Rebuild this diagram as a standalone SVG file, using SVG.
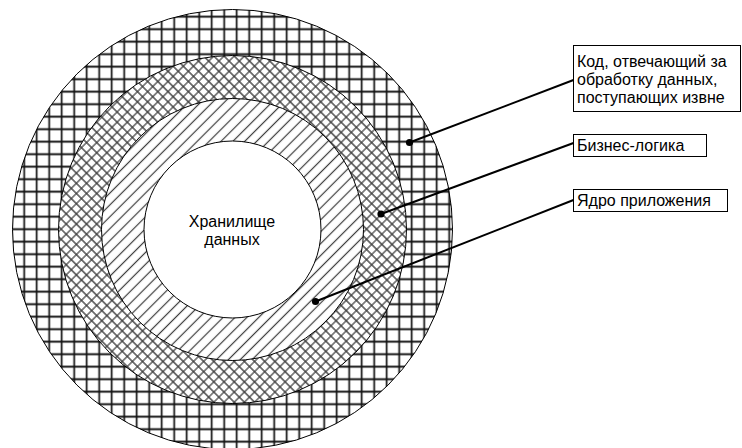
<svg xmlns="http://www.w3.org/2000/svg" width="742" height="448" viewBox="0 0 742 448">
<defs>
<pattern id="grid" patternUnits="userSpaceOnUse" x="5.45" y="-2.05" width="12.5" height="12.5">
<rect width="12.5" height="12.5" fill="#fff"/>
<path d="M6.25 0V12.5M0 6.25H12.5" stroke="#111" stroke-width="1.7"/>
</pattern>
<pattern id="cross" patternUnits="userSpaceOnUse" width="7.2" height="7.2" patternTransform="rotate(45)">
<rect width="7.2" height="7.2" fill="#fff"/>
<path d="M3.6 0V7.2M0 3.6H7.2" stroke="#3c3c3c" stroke-width="1.2"/>
</pattern>
<pattern id="hatch" patternUnits="userSpaceOnUse" width="8.4" height="8.4" patternTransform="rotate(45)">
<rect width="8.4" height="8.4" fill="#fff"/>
<path d="M4.2 0V8.4" stroke="#3c3c3c" stroke-width="1.2"/>
</pattern>
</defs>
<style>
.ring{stroke:#000;stroke-width:1}
.t{font-family:"Liberation Sans",Arial,sans-serif;font-size:16px;fill:#000}
.box{fill:#fff;stroke:#000;stroke-width:1}
.lead{stroke:#000;stroke-width:2;fill:none}
</style>
<rect width="742" height="448" fill="#fff"/>
<g id="outer-ring"><circle class="ring" cx="232.5" cy="229.5" r="220" fill="url(#grid)"/></g>
<g id="business-ring"><circle class="ring" cx="232.5" cy="229.5" r="174" fill="url(#cross)"/></g>
<g id="core-ring"><circle class="ring" cx="232.5" cy="229.5" r="131" fill="url(#hatch)"/></g>
<g id="storage">
<circle class="ring" cx="232.5" cy="229.5" r="88.5" fill="#fff"/>
<text class="t" x="232" y="227" text-anchor="middle">Хранилище</text>
<text class="t" x="232" y="245" text-anchor="middle">данных</text>
</g>
<g id="label-input">
<rect class="box" x="573.5" y="45.5" width="167" height="66"/>
<text class="t" x="577" y="66.5">Код, отвечающий за</text>
<text class="t" x="577" y="84.5">обработку данных,</text>
<text class="t" x="577" y="102.5">поступающих извне</text>
</g>
<g id="label-business">
<rect class="box" x="573.5" y="134.5" width="133" height="22"/>
<text class="t" x="577" y="150.5">Бизнес-логика</text>
</g>
<g id="label-core">
<rect class="box" x="573.5" y="189.5" width="154" height="22"/>
<text class="t" x="577" y="205.5">Ядро приложения</text>
</g>
<g id="connectors">
<path class="lead" d="M409.5 142.5L573.5 80"/>
<circle cx="409.5" cy="142.5" r="3.6"/>
<path class="lead" d="M381 214L573.5 143"/>
<circle cx="381" cy="214" r="3.6"/>
<path class="lead" d="M315.5 301.5L573.5 200"/>
<circle cx="315.5" cy="301.5" r="3.6"/>
</g>
</svg>
